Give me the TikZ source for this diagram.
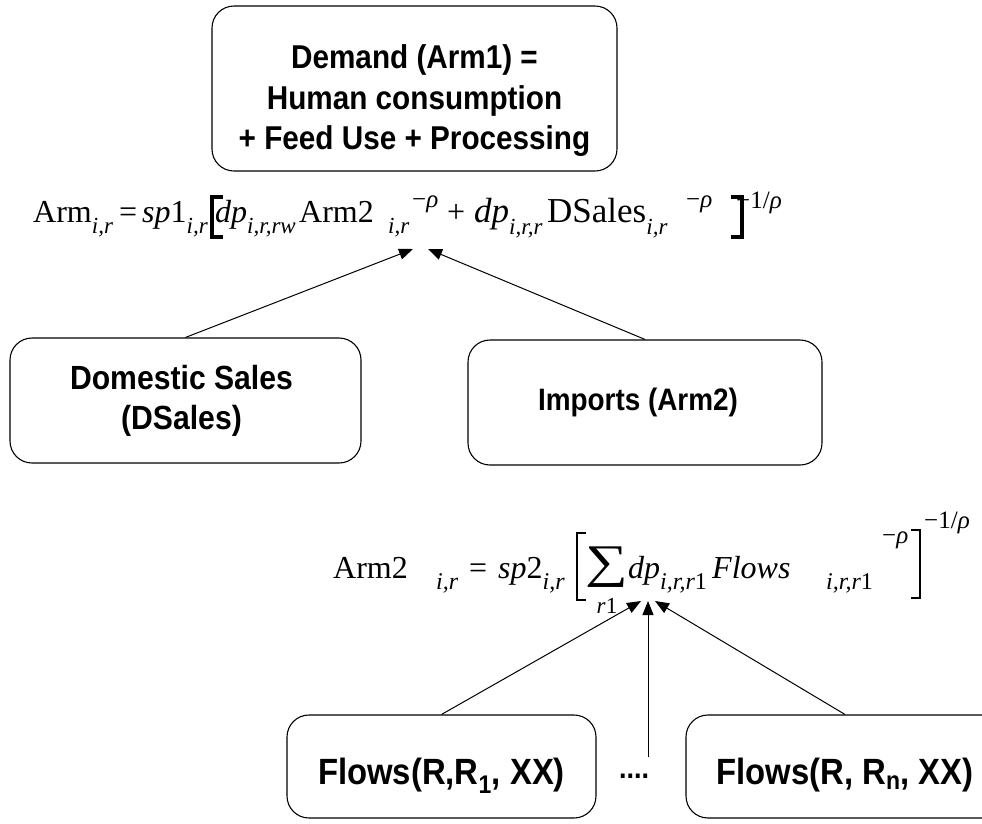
\documentclass[tikz,border=0pt]{standalone}
\usepackage{fontspec}
\usepackage{graphicx}
\setmainfont{Liberation Serif}
\newfontfamily\boxfont{Liberation Sans}
\usetikzlibrary{arrows.meta}
\newcommand\dn[1]{\raisebox{-0.36em}{\fontsize{24}{24}\selectfont\itshape #1}}
\newcommand\dnb[1]{\raisebox{-0.36em}{\fontsize{23}{23}\selectfont\itshape #1}}
\newcommand\cond[1]{\scalebox{0.9}[1]{#1}}
\begin{document}
\begin{tikzpicture}[x=1pt,y=-1pt,
  box/.style={draw, line width=1.1pt, rounded corners=22pt, align=center, inner sep=0pt},
  demandfont/.style={font=\boxfont\bfseries\fontsize{33}{40.5}\selectfont},
  midfont/.style={font=\boxfont\bfseries\fontsize{33.5}{40}\selectfont},
  flowfont/.style={font=\boxfont\bfseries\fontsize{36.5}{40}\selectfont},
  eqt/.style={inner sep=0pt, anchor=base west, font=\fontsize{32}{36}\selectfont},
  eqtb/.style={inner sep=0pt, anchor=base west, font=\fontsize{35}{36}\selectfont},
  eqs/.style={inner sep=0pt, anchor=base west, font=\fontsize{32}{36}\selectfont},
  supt/.style={inner sep=0pt, anchor=base west, font=\fontsize{25}{25}\selectfont},
  arr/.style={line width=1pt, -{Triangle[length=14pt,width=11pt]}},
  brkthick/.style={line width=3.5pt},
  brkthin/.style={line width=1.6pt}]
\useasboundingbox (0,0) rectangle (982,823);

% boxes
\node[box, demandfont, minimum width=405pt, minimum height=165pt] (demand) at (414.5,88.5)
  {\rule{0pt}{48pt}\cond{Demand (Arm1) =}\\\cond{Human consumption}\\\cond{+ Feed Use + Processing}};
\node[box, midfont, minimum width=351pt, minimum height=125pt] (dsales) at (185.5,400.5)
  {\cond{Domestic Sales}\hspace*{8pt}\\\cond{(DSales)}\hspace*{8pt}};
\node[box, font=\boxfont\bfseries\fontsize{31}{40}\selectfont, minimum width=354pt, minimum height=125pt] (imports) at (645,402.5)
  {\cond{Imports (Arm2)}\hspace*{14pt}};
\node[box, flowfont, minimum width=309pt, minimum height=103pt] (flows1) at (441.5,766.5)
  {\rule{0pt}{44pt}\cond{Flows(R,R\textsubscript{1}, XX)}};
\node[box, flowfont, minimum width=318pt, minimum height=103pt] (flowsn) at (845,766.5)
  {\rule{0pt}{44pt}\cond{Flows(R, R\textsubscript{n}, XX)}};
\node[inner sep=0pt, font=\boxfont\bfseries\fontsize{30}{30}\selectfont] (dots) at (634,776) {\cond{....}};

% equation 1
\node[eqt] (e1arm) at (33,222) {Arm\dnb{i,r}};
\node[eqt] (e1eq) at (119,222) {=};
\node[eqt] (e1sp) at (142,222) {\textit{sp}1\dnb{i,r}};
\draw[brkthick] (223,197) -- (212,197) -- (212,237) -- (223,237);
\node[eqt] (e1dp) at (215,222) {\textit{dp}\dnb{i,r,rw}};
\node[eqt] (e1arm2) at (299,222) {Arm2};
\node[eqt] (e1s1) at (388,222) {\dnb{i,r}};
\node[supt] (e1p1) at (412,207) {−\textit{ρ}};
\node[eqt] (e1plus) at (447,222) {+};
\node[eqtb] (e1dp2) at (474,222) {\textit{dp}\dnb{i,r,r}};
\node[eqtb] (e1ds) at (547,222) {DSales\dnb{i,r}};
\node[supt] (e1p2) at (686,207) {−\textit{ρ}};
\draw[brkthick] (731,197) -- (742,197) -- (742,237) -- (731,237);
\node[supt] (e1ex) at (736,208) {−1/\textit{ρ}};

% equation 2
\node[eqs] (e2arm2) at (333,578) {Arm2};
\node[eqs] (e2s1) at (436,578) {\dn{i,r}};
\node[eqs] (e2eq) at (469,578) {=};
\node[eqs] (e2sp) at (498,578) {\textit{sp}2\dn{i,r}};
\draw[brkthin] (586,533) -- (577,533) -- (577,600) -- (586,600);
\node[inner sep=0pt, font=\fontsize{60}{60}\selectfont] (sigma) at (607,567) {\scalebox{1}[0.78]{∑}};
\node[inner sep=0pt, anchor=base, font=\fontsize{23}{23}\selectfont] (r1) at (607,613) {\textit{r}1};
\node[eqs] (e2dp) at (628,578) {\textit{dp}\dn{i,r,r\textup{1}}};
\node[eqs] (e2fl) at (712,578) {\textit{Flows}};
\node[eqs] (e2s2) at (826,578) {\dn{i,r,r\textup{1}}};
\node[supt] (e2p) at (882,543) {−\textit{ρ}};
\draw[brkthin] (911,530) -- (920,530) -- (920,598) -- (911,598);
\node[supt] (e2ex) at (924,528) {−1/\textit{ρ}};

% arrows
\coordinate (t1a) at (413,249);
\coordinate (t1b) at (428,249);
\draw[arr] (dsales.north) -- (t1a);
\draw[arr] (imports.north) -- (t1b);
\coordinate (t2a) at (641,601);
\coordinate (t2b) at (648,601);
\coordinate (t2c) at (655,601);
\coordinate (vbot) at (648,757);
\draw[arr] (flows1.north) -- (t2a);
\draw[arr] (vbot) -- (t2b);
\draw[arr] (flowsn.north) -- (t2c);
\end{tikzpicture}
\end{document}
